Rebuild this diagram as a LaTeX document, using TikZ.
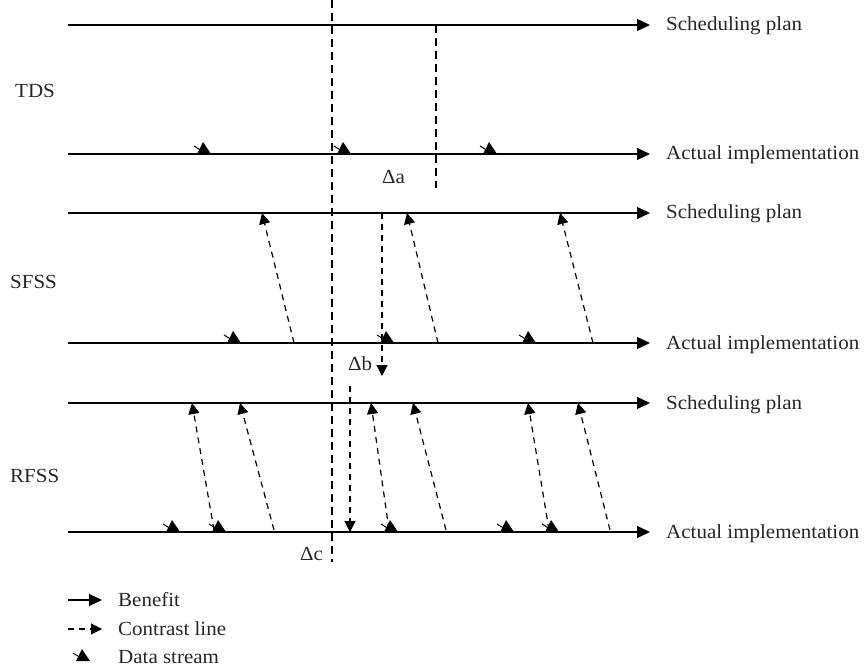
\documentclass[tikz,border=0pt]{standalone}
\usepackage{fontspec}
\setmainfont[FakeStretch=1.05]{Liberation Serif}
\usetikzlibrary{arrows.meta}
\begin{document}
\begin{tikzpicture}[x=1pt,y=-1pt,
  lab/.style={font=\fontsize{20}{23}\selectfont, inner sep=0pt, anchor=base west, text=black!85},
  benefit/.style={line width=1.3pt, -{Triangle[length=13pt,width=12pt]}},
  contrast/.style={line width=1.2pt, dash pattern=on 6pt off 5pt, -{Triangle[length=11pt,width=11pt]}},
  guide/.style={line width=1.2pt, dash pattern=on 8pt off 5pt},
  ds/.pic={\fill (-6,0) -- (8,0) -- (0,-12) -- cycle; \draw[line width=1pt] (-9,-8) -- (-1,-3);}
]
\useasboundingbox (0,0) rectangle (865,671);

% main horizontal lines
\foreach \n/\y in {t1/25, t2/154, s1/213, s2/343, r1/403, r2/532}{
  \coordinate (\n a) at (68,\y);
  \coordinate (\n b) at (650,\y);
  \draw[benefit] (\n a) -- (\n b);
}
\node[lab] (lt1) at (666,31) {Scheduling plan};
\node[lab] (lt2) at (666,160) {Actual implementation};
\node[lab] (ls1) at (666,219) {Scheduling plan};
\node[lab] (ls2) at (666,349) {Actual implementation};
\node[lab] (lr1) at (666,409) {Scheduling plan};
\node[lab] (lr2) at (666,538) {Actual implementation};

\node[lab] (tds) at (15,98) {TDS};
\node[lab] (sfss) at (10,288) {SFSS};
\node[lab] (rfss) at (10,482) {RFSS};

% guide lines
\coordinate (g1a) at (332,0); \coordinate (g1b) at (332,562);
\draw[guide] (g1a) -- (g1b);
\coordinate (g2a) at (436,25); \coordinate (g2b) at (436,188);
\draw[guide] (g2a) -- (g2b);

\node[lab] (da) at (382,184) {Δa};
\node[lab] (db) at (348,370) {Δb};
\node[lab] (dc) at (300,560) {Δc};

% SFSS contrast arrows
\foreach \i/\xa/\xb in {1/294/262, 2/438/407, 3/593/560}{
  \coordinate (sa\i) at (\xa,343); \coordinate (sb\i) at (\xb,213);
  \draw[contrast] (sa\i) -- (sb\i);
}
\coordinate (sd1) at (382,213); \coordinate (sd2) at (382,376);
\draw[contrast] (sd1) -- (sd2);

% RFSS contrast arrows
\foreach \i/\xa/\xb in {1/214/192, 2/274/240, 3/389/371, 4/446/413, 5/549/528, 6/610/578}{
  \coordinate (ra\i) at (\xa,530); \coordinate (rb\i) at (\xb,403);
  \draw[contrast] (ra\i) -- (rb\i);
}
\coordinate (rd1) at (350,386); \coordinate (rd2) at (350,532);
\draw[contrast] (rd1) -- (rd2);

% data stream markers
\foreach \x in {203,343,489} { \pic at (\x,154) {ds}; }
\foreach \x in {233,386,528} { \pic at (\x,343) {ds}; }
\foreach \x in {172,218,390,506,551} { \pic at (\x,532) {ds}; }

% legend
\coordinate (lg1a) at (68,600); \coordinate (lg1b) at (102,600);
\draw[benefit] (lg1a) -- (lg1b);
\coordinate (lg2a) at (68,629); \coordinate (lg2b) at (102,629);
\draw[contrast, dash pattern=on 6pt off 5pt] (lg2a) -- (lg2b);
\pic at (82,661) {ds};
\node[lab] (leg1) at (118,606) {Benefit};
\node[lab] (leg2) at (118,635) {Contrast line};
\node[lab] (leg3) at (118,663) {Data stream};
\end{tikzpicture}
\end{document}
